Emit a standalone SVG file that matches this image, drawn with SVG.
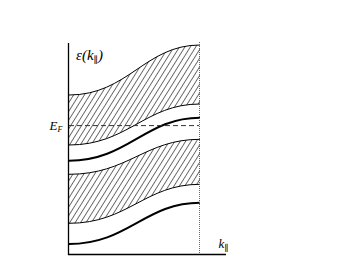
<svg xmlns="http://www.w3.org/2000/svg" width="346" height="259" viewBox="0 0 346 259">
<defs>
<pattern id="hatch" width="4.6" height="10" patternUnits="userSpaceOnUse" patternTransform="rotate(32)">
<line x1="2.3" y1="-1" x2="2.3" y2="11" stroke="#444" stroke-width="0.8"/>
</pattern>
</defs>
<style>
.band{fill:url(#hatch);stroke:none}
.thin{fill:none;stroke:#000;stroke-width:1}
.thick{fill:none;stroke:#000;stroke-width:2}
.axis{fill:none;stroke:#000;stroke-width:1.3}
.edge{fill:none;stroke:#666;stroke-width:1;stroke-dasharray:1 1}
.fermi{fill:none;stroke:#333;stroke-width:1;stroke-dasharray:5 3}
.lbl{font-family:"Liberation Serif","DejaVu Serif",serif;font-style:italic;fill:#000}
</style>
<rect width="346" height="259" fill="#fff"/>
<g id="bands">
<path class="band" d="M69,95 C128,95 145,45 200,45 L200,104 C145,104 128,145 69,145 Z"/>
<path class="band" d="M69,174.3 C128,174.3 145,139.3 200,139.3 L200,184.3 C145,184.3 128,223.3 69,223.3 Z"/>
</g>
<g id="curves">
<path class="thin" d="M69,95 C128,95 145,45 200,45"/>
<path class="thin" d="M69,145 C128,145 145,104 200,104"/>
<path class="thick" d="M69,160.7 C128,160.7 145,117.7 200,117.7"/>
<path class="thin" d="M69,174.3 C128,174.3 145,139.3 200,139.3"/>
<path class="thin" d="M69,223.3 C128,223.3 145,184.3 200,184.3"/>
<path class="thick" d="M69,244 C128,244 145,202.7 200,202.7"/>
</g>
<g id="fermi-level">
<line class="fermi" x1="69" y1="125.6" x2="199" y2="125.6"/>
</g>
<g id="axes">
<line class="axis" x1="68.5" y1="43" x2="68.5" y2="255"/>
<line class="axis" x1="68" y1="254.5" x2="226" y2="254.5"/>
<line class="edge" x1="199.5" y1="42" x2="199.5" y2="254"/>
</g>
<g id="labels">
<text class="lbl" x="76" y="59.5" font-size="15">ε(k<tspan font-size="9.5" dy="3" font-style="normal">∥</tspan><tspan dy="-3">)</tspan></text>
<text class="lbl" x="49.5" y="129.5" font-size="13">E<tspan font-size="8" dy="2">F</tspan></text>
<text class="lbl" x="218.5" y="247.5" font-size="13">k<tspan font-size="9" dy="3" font-style="normal">∥</tspan></text>
</g>
</svg>
